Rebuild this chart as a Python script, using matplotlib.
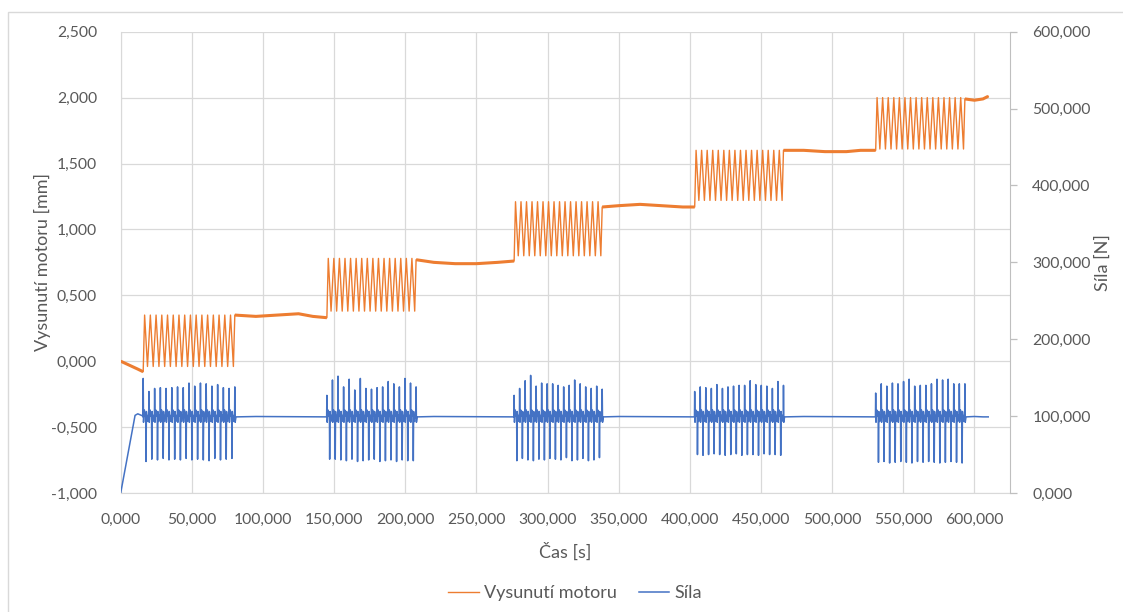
import matplotlib
matplotlib.use("Agg")
from matplotlib import pyplot as plt
from matplotlib.ticker import FuncFormatter, MultipleLocator
from matplotlib.patches import Rectangle

plt.rcParams['font.family'] = ['Lato', 'DejaVu Sans']

TXT = '#595959'
GRID = '#d9d9d9'
ORANGE = '#ED7D31'
BLUE = '#4472C4'

# --- data (time in s, displacement in mm, force in N) ---
# flat (hold) parts of the motor displacement
flat_t = [
    [0.0, 4.0, 8.0, 12.0, 15.8],
    [80.2, 95.0, 110.0, 125.0, 135.0, 144.9],
    [207.6, 220.0, 235.0, 250.0, 265.0, 276.5],
    [338.4, 350.0, 365.0, 380.0, 395.0, 403.4],
    [465.8, 480.0, 495.0, 510.0, 520.0, 530.6],
    [593.3, 600.0, 606.0, 609.7],
]
flat_v = [
    [0.00, -0.02, -0.04, -0.06, -0.08],
    [0.35, 0.34, 0.35, 0.36, 0.34, 0.33],
    [0.77, 0.75, 0.74, 0.74, 0.75, 0.76],
    [1.17, 1.18, 1.19, 1.18, 1.17, 1.17],
    [1.60, 1.60, 1.59, 1.59, 1.60, 1.60],
    [1.99, 1.98, 1.99, 2.01],
]
# oscillation blocks
osc_start = [15.8, 144.9, 276.5, 403.4, 530.6]
osc_end = [80.2, 207.6, 338.4, 465.8, 593.3]
osc_cycles = [16, 16, 16, 16, 16]
osc_peak = [0.35, 0.78, 1.21, 1.60, 2.00]
osc_trough = [-0.04, 0.38, 0.80, 1.22, 1.61]

# force: start ramp, base level, spikes per block
force_ramp_t = [0.0, 10.1, 12.0, 15.8]
force_ramp_v = [0.0, 101.0, 103.0, 100.0]
force_base = 99.0
force_ring = [92.0, 108.0, 100.0, 106.0, 93.0, 101.0]
force_up = [
    [149, 132, 136, 137, 136, 137, 138, 137, 143, 139, 143, 142, 139, 141, 137, 136, 138],
    [127, 147, 152, 138, 148, 134, 149, 136, 135, 137, 138, 145, 142, 138, 149, 143, 138],
    [127, 136, 146, 153, 139, 143, 142, 142, 140, 138, 140, 147, 142, 138, 136, 139, 135],
    [132, 138, 137, 136, 141, 136, 138, 139, 140, 140, 146, 141, 140, 139, 136, 145, 140],
    [130, 142, 139, 143, 142, 145, 148, 139, 140, 140, 142, 148, 147, 148, 142, 142, 142],
]
force_down = [
    [41, 44, 43, 45, 43, 44, 43, 45, 43, 44, 43, 42, 45, 43, 44, 45],
    [44, 44, 43, 42, 44, 41, 42, 43, 44, 41, 42, 43, 41, 43, 42, 42],
    [42, 45, 43, 42, 44, 43, 45, 44, 43, 46, 42, 43, 45, 42, 43, 46],
    [50, 49, 50, 51, 50, 49, 50, 51, 49, 50, 50, 49, 51, 50, 50, 49],
    [40, 41, 39, 40, 41, 40, 39, 41, 40, 41, 40, 39, 40, 41, 40, 39],
]
force_end_t = 609.7

# --- build the series ---
mot_t, mot_v = [], []
sil_t, sil_v = list(force_ramp_t), list(force_ramp_v)
for b in range(5):
    mot_t += flat_t[b]
    mot_v += flat_v[b]
    t0, t1, n = osc_start[b], osc_end[b], osc_cycles[b]
    P = (t1 - t0) / n
    for k in range(n):
        mot_t += [t0 + (k + 0.25) * P, t0 + (k + 0.75) * P]
        mot_v += [osc_peak[b], osc_trough[b]]
    # force in this block
    sil_t += [t0 - 0.04 * P]
    sil_v += [force_base]
    for k in range(n + 1):
        ts = t0 + k * P
        sil_t.append(ts)
        sil_v.append(force_up[b][k])
        if k == n:
            sil_t += [ts + 0.06 * P, ts + 0.2 * P]
            sil_v += [force_ring[0], force_base]
            break
        sil_t += [ts + 0.06 * P, ts + 0.2 * P, ts + 0.36 * P, ts + 0.46 * P,
                  ts + 0.5 * P, ts + 0.56 * P, ts + 0.7 * P, ts + 0.86 * P, ts + 0.96 * P]
        sil_v += [force_ring[0], force_ring[1], force_ring[2], force_base,
                  force_down[b][k], force_ring[3], force_ring[4], force_ring[5], force_base]
    # base between blocks
    nxt = flat_t[b + 1]
    sil_t += [nxt[1], nxt[-2]]
    sil_v += [force_base + 0.5, force_base]
mot_t += flat_t[5]
mot_v += flat_v[5]
sil_t.append(force_end_t)
sil_v.append(force_base)

# --- figure ---
fig = plt.figure(figsize=(11.23, 6.12), dpi=100)
fig.patches.append(Rectangle((8 / 1123, -0.1), 1.2, 1 - 12 / 612 + 0.1, transform=fig.transFigure,
                             fill=False, edgecolor=GRID, lw=1.0))
ax = fig.add_axes([120.7 / 1123, 1 - 493 / 612, (1010 - 120.7) / 1123, (493 - 31.7) / 612])
ax2 = ax.twinx()

ln1, = ax.plot(mot_t, mot_v, color=ORANGE, lw=1.0, label='Vysunutí motoru', zorder=3)
for ft, fv in zip(flat_t, flat_v):
    ax.plot(ft, fv, color=ORANGE, lw=2.2, zorder=3, solid_capstyle='butt')
ln2, = ax2.plot(sil_t, sil_v, color=BLUE, lw=1.1, label='Síla')

ax.set_xlim(0, 625)
ax.set_ylim(-1.0, 2.5)
ax2.set_ylim(0, 600)
ax.xaxis.set_major_locator(MultipleLocator(50))
ax.yaxis.set_major_locator(MultipleLocator(0.5))
ax2.yaxis.set_major_locator(MultipleLocator(100))

fmt = FuncFormatter(lambda v, p: f"{v:.3f}".replace('.', ','))
ax.xaxis.set_major_formatter(fmt)
ax.yaxis.set_major_formatter(fmt)
ax2.yaxis.set_major_formatter(fmt)

ax.grid(True, color=GRID, lw=0.9)
ax.set_axisbelow(True)
for s in ['top', 'right']:
    ax.spines[s].set_visible(False)
ax.spines['left'].set_color(GRID)
ax.spines['bottom'].set_color(GRID)
for s in ['top', 'left', 'bottom']:
    ax2.spines[s].set_visible(False)
ax2.spines['right'].set_color('#bfbfbf')

ax.tick_params(axis='x', length=0, pad=14, labelsize=11.3, labelcolor=TXT)
ax.tick_params(axis='y', length=0, pad=17, labelsize=11.3, labelcolor=TXT)
ax2.tick_params(axis='y', length=5, width=0.9, color='#bfbfbf', pad=11, labelsize=11.3, labelcolor=TXT)

ax.set_xlabel('Čas [s]', fontsize=13, color=TXT)
ax.xaxis.set_label_coords(0.5, -0.128)
ax.xaxis.label.set_va('center')
ax.set_ylabel('Vysunutí motoru [mm]', fontsize=13, color=TXT)
ax.yaxis.set_label_coords(-0.088, 0.5)
ax.yaxis.label.set_va('center')
ax2.set_ylabel('Síla [N]', fontsize=13, color=TXT)
ax2.yaxis.set_label_coords(1.1046, 0.5)
ax2.yaxis.label.set_va('center')

leg = fig.legend([ln1, ln2], ['Vysunutí motoru', 'Síla'], loc='center',
                 bbox_to_anchor=(575 / 1123, 1 - 593 / 612), ncol=2, frameon=False,
                 fontsize=13, handlelength=1.7, handletextpad=0.3, columnspacing=1.2)
for t in leg.get_texts():
    t.set_color(TXT)

fig.savefig('out.png', dpi=100)
